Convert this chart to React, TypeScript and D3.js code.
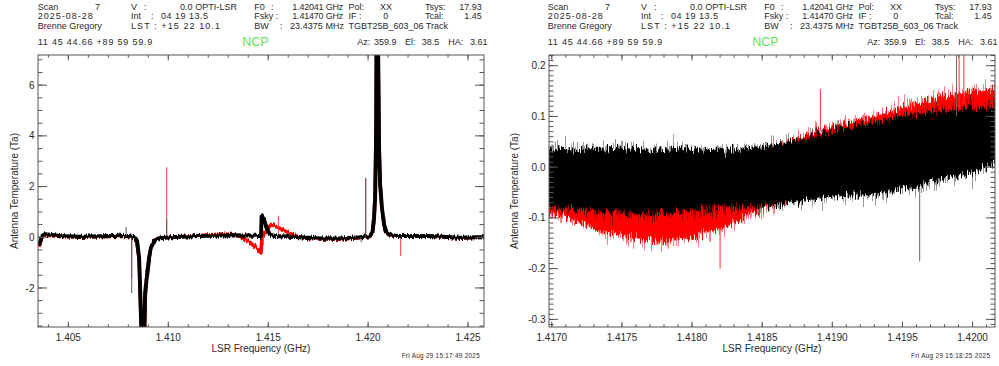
import React from "react";
import * as d3 from "d3";

const W = 999;
const H = 366;

// ---------- Left panel: full band spectra (freq GHz, Ta) ----------
const leftBlack: [number, number][] = [
  [1.40348, -0.3], [1.40358, -0.2], [1.40368, 0.05], [1.40383, 0.12], [1.40408, 0.1],
  [1.40458, 0.05], [1.40559, 0.02], [1.40659, 0.04], [1.40759, 0.06], [1.40799, 0.05],
  [1.40834, 0.0], [1.40844, -0.15], [1.40854, -0.8], [1.40861, -2.5], [1.40866, -4],
  [1.40879, -4], [1.40884, -2.2], [1.40894, -1.5], [1.40904, -0.8], [1.40914, -0.4],
  [1.40929, -0.15], [1.40949, -0.05], [1.41009, 0.0], [1.41159, 0.05], [1.41309, 0.08],
  [1.41409, 0.07], [1.41459, 0.05], [1.41464, 0.0], [1.41467, 0.85], [1.41479, 0.7],
  [1.41494, 0.35], [1.41509, 0.1], [1.41534, 0.05], [1.41659, 0.0], [1.41759, -0.05],
  [1.41859, -0.05], [1.41959, 0.0], [1.42009, 0.05], [1.42022, 0.2], [1.4203, 0.8],
  [1.42035, 1.5], [1.4204, 4], [1.42042, 7.5], [1.4205, 7.5], [1.42055, 3.5],
  [1.4206, 2.1], [1.4207, 1.1], [1.4208, 0.5], [1.4209, 0.2], [1.4211, 0.08],
  [1.4216, 0.05], [1.4231, 0.05], [1.4246, -0.02], [1.42535, 0.0], [1.4258, 0.0],
];

const leftRed: [number, number][] = [
  [1.40348, -0.35], [1.40358, -0.25], [1.40368, 0.0], [1.40383, 0.08], [1.40408, 0.07],
  [1.40458, 0.03], [1.40559, 0.0], [1.40659, 0.02], [1.40759, 0.04], [1.40799, 0.03],
  [1.40834, -0.02], [1.40844, -0.2], [1.40854, -0.9], [1.40861, -2.6], [1.40866, -4],
  [1.40881, -4], [1.40886, -2.0], [1.40896, -1.3], [1.40906, -0.7], [1.40916, -0.35],
  [1.40931, -0.12], [1.40951, -0.04], [1.41009, 0.0], [1.41159, 0.07], [1.41259, 0.13],
  [1.41309, 0.12], [1.41359, 0.04], [1.41409, -0.2], [1.41434, -0.38], [1.41464, -0.62],
  [1.41469, 0.0], [1.41484, 0.2], [1.41509, 0.45], [1.41519, 0.5], [1.41559, 0.35],
  [1.41609, 0.15], [1.41659, 0.0], [1.41709, -0.06], [1.41859, -0.08], [1.41959, -0.02],
  [1.42009, 0.03], [1.42022, 0.18], [1.4203, 0.8], [1.42035, 1.6], [1.4204, 4.5],
  [1.42042, 7.5], [1.4205, 7.5], [1.42056, 3.4], [1.42061, 2.0], [1.42071, 1.0],
  [1.42081, 0.45], [1.42091, 0.18], [1.42111, 0.06], [1.4216, 0.04], [1.4231, 0.04],
  [1.4246, -0.03], [1.4258, 0.0],
];

const leftSpikeFreq = [1.40817, 1.40992, 1.41476, 1.41551, 1.41988, 1.42163, 1.40789, 1.40817, 1.40992, 1.41965, 1.41988];
const leftSpikeBase = [0.0, 0.05, 0.05, 0.1, 0.0, 0.05, 0.05, 0.0, 0.05, 0.0, 0.0];
const leftSpikeVal = [-1.6, 2.76, -0.3, 0.85, 2.3, -0.74, 0.4, -2.2, 0.71, -0.2, 2.35];
const leftSpikeSeries = ["red", "red", "red", "red", "red", "red", "black", "black", "black", "black", "black"];

// ---------- Right panel: zoomed spectra, dense noise envelopes ----------
const rightFreq = [
  1.41698, 1.4171, 1.4172, 1.4173, 1.4174, 1.4175, 1.4176, 1.4177, 1.4178, 1.4179, 1.418,
  1.4181, 1.4182, 1.4183, 1.4184, 1.4185, 1.4186, 1.4187, 1.4188, 1.4189, 1.419, 1.4191,
  1.4192, 1.4193, 1.4194, 1.4195, 1.4196, 1.4197, 1.4198, 1.4199, 1.42, 1.4201, 1.42016,
];
const blackHi = [0.035, 0.036, 0.034, 0.036, 0.037, 0.038, 0.036, 0.034, 0.036, 0.038, 0.036, 0.034, 0.034, 0.035, 0.037, 0.04, 0.045, 0.05, 0.055, 0.062, 0.07, 0.078, 0.085, 0.09, 0.096, 0.1, 0.104, 0.108, 0.111, 0.114, 0.116, 0.119, 0.12];
const blackLo = [-0.078, -0.08, -0.083, -0.086, -0.088, -0.09, -0.092, -0.092, -0.09, -0.088, -0.085, -0.08, -0.078, -0.078, -0.078, -0.076, -0.074, -0.07, -0.066, -0.062, -0.058, -0.057, -0.056, -0.055, -0.05, -0.045, -0.04, -0.03, -0.022, -0.015, -0.01, 0.0, 0.01];
const redLo = [-0.09, -0.1, -0.11, -0.122, -0.13, -0.135, -0.14, -0.143, -0.146, -0.144, -0.138, -0.128, -0.122, -0.11, -0.095, -0.08, -0.07, -0.06, -0.05, -0.04, -0.03, -0.02, -0.012, -0.005, 0.0, 0.01, 0.02, 0.03, 0.04, 0.05, 0.055, 0.06, 0.06];
const redHi = [-0.03, -0.035, -0.04, -0.045, -0.05, -0.052, -0.054, -0.055, -0.055, -0.052, -0.045, -0.035, -0.025, -0.015, 0.0, 0.015, 0.035, 0.05, 0.058, 0.07, 0.078, 0.085, 0.093, 0.1, 0.108, 0.118, 0.125, 0.135, 0.14, 0.145, 0.15, 0.152, 0.152];

const rightSpikeFreq = [1.418915, 1.4182, 1.419904, 1.419938, 1.419623, 1.419886];
const rightSpikeBase = [0.07, -0.12, 0.1, 0.12, -0.04, 0.1];
const rightSpikeVal = [0.154, -0.2, 0.25, 0.25, -0.186, 0.25];
const rightSpikeSeries = ["red", "red", "red", "red", "black", "black"];

// ---------- Axes ----------
const leftXTicks = [1.405, 1.41, 1.415, 1.42, 1.425];
const leftYTicks = [-2, 0, 2, 4, 6];
const rightXTicks = [1.417, 1.4175, 1.418, 1.4185, 1.419, 1.4195, 1.42];
const rightYTicks = [-0.3, -0.2, -0.1, 0.0, 0.1, 0.2];

const FONT = "'Liberation Sans', Arial, Helvetica, sans-serif";
const AX = "#555";
const TXT = "#2a2a2a";

type AxesProps = {
  x: d3.ScaleLinear<number, number>;
  y: d3.ScaleLinear<number, number>;
  xMajor: number[];
  xMinor: number[];
  yMajor: number[];
  yMinor: number[];
  xFmt: (v: number) => string;
  yFmt: (v: number) => string;
};

function Axes({ x, y, xMajor, xMinor, yMajor, yMinor, xFmt, yFmt }: AxesProps) {
  const [x0, x1] = x.range();
  const [y1, y0] = y.range();
  const xl = 5.4, xs = 2.7, yl = 9, ys = 4.5;
  const inX = (v: number) => v >= Math.min(...x.domain()) && v <= Math.max(...x.domain());
  const inY = (v: number) => v >= Math.min(...y.domain()) && v <= Math.max(...y.domain());
  return (
    <g>
      <rect x={x0} y={y0} width={x1 - x0} height={y1 - y0} fill="none" stroke={AX} strokeWidth={1} />
      {xMinor.filter(inX).map((v, i) => (
        <g key={"xm" + i} stroke={AX} strokeWidth={1}>
          <line x1={x(v)} x2={x(v)} y1={y1} y2={y1 - xs} />
          <line x1={x(v)} x2={x(v)} y1={y0} y2={y0 + xs} />
        </g>
      ))}
      {xMajor.map((v, i) => (
        <g key={"xM" + i}>
          <line x1={x(v)} x2={x(v)} y1={y1} y2={y1 - xl} stroke={AX} />
          <line x1={x(v)} x2={x(v)} y1={y0} y2={y0 + xl} stroke={AX} />
          <text x={x(v)} y={y1 + 13.5} textAnchor="middle" fontSize={10} fontFamily={FONT} fill={TXT}>
            {xFmt(v)}
          </text>
        </g>
      ))}
      {yMinor.filter(inY).map((v, i) => (
        <g key={"ym" + i} stroke={AX} strokeWidth={1}>
          <line x1={x0} x2={x0 + ys} y1={y(v)} y2={y(v)} />
          <line x1={x1} x2={x1 - ys} y1={y(v)} y2={y(v)} />
        </g>
      ))}
      {yMajor.map((v, i) => (
        <g key={"yM" + i}>
          <line x1={x0} x2={x0 + yl} y1={y(v)} y2={y(v)} stroke={AX} />
          <line x1={x1} x2={x1 - yl} y1={y(v)} y2={y(v)} stroke={AX} />
          <text x={x0 - 3.5} y={y(v) + 3.6} textAnchor="end" fontSize={10} fontFamily={FONT} fill={TXT}>
            {yFmt(v)}
          </text>
        </g>
      ))}
    </g>
  );
}

function Header({ dx }: { dx: number }) {
  const t = (x: number, y: number, s: string, extra: any = {}) => (
    <text x={x + dx} y={y} fontSize={9} fontFamily={FONT} fill={TXT} {...extra}>
      {s}
    </text>
  );
  return (
    <g>
      {t(37.7, 10, "Scan")}
      {t(95, 10, "7")}
      {t(131, 10, "V")}
      {t(144, 10, ":")}
      {t(180, 10, "0.0 OPTI-LSR", { textLength: 57 })}
      {t(37.7, 19.3, "2025-08-28", { textLength: 55 })}
      {t(131, 19.3, "Int")}
      {t(151, 19.3, ":")}
      {t(161, 19.3, "04 19 13.5", { textLength: 47 })}
      {t(37.7, 28.7, "Brenne Gregory")}
      {t(131, 28.7, "LST : +15 22 10.1", { textLength: 89 })}
      {t(37.7, 45, "11 45 44.66  +89 59 59.9", { textLength: 114.6 })}
      <text x={242.3 + dx} y={46} fontSize={12.5} fontFamily={FONT} fill="#5ee35e">NCP</text>
      {t(254.3, 10, "F0")}
      {t(271, 10, ":")}
      {t(292.3, 10, "1.42041 GHz", { textLength: 51 })}
      {t(348.5, 10, "Pol:")}
      {t(380, 10, "XX")}
      {t(425, 10, "Tsys:")}
      {t(481.7, 10, "17.93", { textAnchor: "end" })}
      {t(254.3, 19.3, "Fsky :")}
      {t(292.3, 19.3, "1.41470 GHz", { textLength: 51 })}
      {t(348.5, 19.3, "IF :")}
      {t(383.3, 19.3, "0")}
      {t(425, 19.3, "Tcal:")}
      {t(481.7, 19.3, "1.45", { textAnchor: "end" })}
      {t(254.3, 28.7, "BW")}
      {t(280, 28.7, ":")}
      {t(290, 28.7, "23.4375 MHz", { textLength: 54 })}
      {t(348.5, 28.7, "TGBT25B_603_06 Track", { textLength: 99.5 })}
      {t(357.3, 45, "Az:")}
      {t(374, 45, "359.9")}
      {t(405, 45, "El:")}
      {t(421.7, 45, "38.5")}
      {t(448.3, 45, "HA:")}
      {t(470, 45, "3.61")}
    </g>
  );
}

// Rendering texture only: vertical-only displacement that turns a band's smooth
// edges into the dense spiky look of a noisy spectrum plot.
function NoiseFilter({ id, scale, seed, fx }: { id: string; scale: number; seed: number; fx: number }) {
  return (
    <filter id={id} filterUnits="userSpaceOnUse" x={0} y={40} width={W} height={300} colorInterpolationFilters="sRGB">
      <feTurbulence type="fractalNoise" baseFrequency={`${fx} 0.035`} numOctaves={2} seed={seed} result="n" />
      <feColorMatrix in="n" type="matrix"
        values="0 0 0 0 0.5  0 1 0 0 0  0 0 0 0 0  0 0 0 0 1" result="m" />
      <feDisplacementMap in="SourceGraphic" in2="m" scale={scale} xChannelSelector="R" yChannelSelector="G" />
    </filter>
  );
}

export default function App() {
  const xL = d3.scaleLinear().domain([1.40348, 1.4258]).range([38, 484]);
  const yL = d3.scaleLinear().domain([-3.54, 7.19]).range([327, 55]);
  const xR = d3.scaleLinear().domain([1.41698, 1.42016]).range([549, 995]);
  const yR = d3.scaleLinear().domain([-0.315, 0.221]).range([327, 55]);

  const lineL = d3
    .line<[number, number]>()
    .x((d) => xL(d[0]))
    .y((d) => yL(d[1]));

  const band = (lo: number[], hi: number[]) =>
    d3
      .area<number>()
      .x((f) => xR(f))
      .y0((_, i) => yR(lo[i]))
      .y1((_, i) => yR(hi[i]))(rightFreq) || "";

  const xMinorL = d3.range(0, 23).map((i) => +(1.403 + i * 0.001).toFixed(4));
  const yMinorL = d3.range(-7, 15).map((i) => i * 0.5);
  const xMinorR = d3.range(0, 33).map((i) => +(1.4169 + i * 0.0001).toFixed(5));
  const yMinorR = d3.range(-31, 23).map((i) => +(i * 0.01).toFixed(3));

  const spikeColor = (s: string, right: boolean) =>
    s === "red" ? (right ? "#ff3030" : "#ff4040") : right ? "#666" : "#555";

  return (
    <svg
      width={W}
      height={H}
      viewBox={`0 0 ${W} ${H}`}
      style={{ position: "absolute", left: 0, top: 0, background: "#fff" }}
    >
      <rect x={0} y={0} width={W} height={H} fill="#fff" />
      <defs>
        <clipPath id="clipL">
          <rect x={38} y={55} width={446} height={272} />
        </clipPath>
        <clipPath id="clipR">
          <rect x={549} y={55} width={446} height={272} />
        </clipPath>
        <NoiseFilter id="nzRedSoft" scale={44} seed={3} fx={0.9} />
        <NoiseFilter id="nzRed" scale={20} seed={7} fx={0.8} />
        <NoiseFilter id="nzBlackSoft" scale={44} seed={11} fx={0.9} />
        <NoiseFilter id="nzBlack" scale={20} seed={17} fx={0.8} />
        <NoiseFilter id="nzLine" scale={5} seed={5} fx={0.9} />
      </defs>

      <Header dx={0} />
      <Header dx={510} />

      {/* Left panel data */}
      <g clipPath="url(#clipL)">
        <g filter="url(#nzLine)">
          <path d={lineL(leftRed) || ""} fill="none" stroke="#ff0000" strokeWidth={3.5} strokeLinejoin="round" />
        </g>
        {leftSpikeFreq.map((f, i) =>
          leftSpikeSeries[i] === "red" ? (
            <line key={"lsr" + i} x1={xL(f)} x2={xL(f)} y1={yL(leftSpikeBase[i])} y2={yL(leftSpikeVal[i])}
              stroke={spikeColor("red", false)} strokeWidth={1} />
          ) : null
        )}
        <g filter="url(#nzLine)">
          <path d={lineL(leftBlack) || ""} fill="none" stroke="#000" strokeWidth={3.9} strokeLinejoin="round" />
        </g>
        {leftSpikeFreq.map((f, i) =>
          leftSpikeSeries[i] === "black" ? (
            <line key={"lsb" + i} x1={xL(f)} x2={xL(f)} y1={yL(leftSpikeBase[i])} y2={yL(leftSpikeVal[i])}
              stroke={spikeColor("black", false)} strokeWidth={1} />
          ) : null
        )}
      </g>

      {/* Right panel data */}
      <g clipPath="url(#clipR)">
        <g filter="url(#nzRedSoft)" opacity={0.5}>
          <path d={band(redLo, redHi)} fill="#ff0000" />
        </g>
        <g filter="url(#nzRed)">
          <path d={band(redLo, redHi)} fill="#ff0000" />
        </g>
        {rightSpikeFreq.map((f, i) =>
          rightSpikeSeries[i] === "red" ? (
            <line key={"rsr" + i} x1={xR(f)} x2={xR(f)} y1={yR(rightSpikeBase[i])} y2={yR(rightSpikeVal[i])}
              stroke={spikeColor("red", true)} strokeWidth={1} />
          ) : null
        )}
        <g filter="url(#nzBlackSoft)" opacity={0.4}>
          <path d={band(blackLo, blackHi)} fill="#000" />
        </g>
        <g filter="url(#nzBlack)">
          <path d={band(blackLo, blackHi)} fill="#000" />
        </g>
        {rightSpikeFreq.map((f, i) =>
          rightSpikeSeries[i] === "black" ? (
            <line key={"rsb" + i} x1={xR(f)} x2={xR(f)} y1={yR(rightSpikeBase[i])} y2={yR(rightSpikeVal[i])}
              stroke={spikeColor("black", true)} strokeWidth={1} />
          ) : null
        )}
      </g>

      <Axes x={xL} y={yL} xMajor={leftXTicks} xMinor={xMinorL} yMajor={leftYTicks} yMinor={yMinorL}
        xFmt={(v) => v.toFixed(3)} yFmt={(v) => String(v)} />
      <Axes x={xR} y={yR} xMajor={rightXTicks} xMinor={xMinorR} yMajor={rightYTicks} yMinor={yMinorR}
        xFmt={(v) => v.toFixed(4)} yFmt={(v) => v.toFixed(1)} />

      {/* Titles */}
      <text x={261} y={352} textAnchor="middle" fontSize={10} fontFamily={FONT} fill={TXT}>LSR Frequency (GHz)</text>
      <text x={772} y={352} textAnchor="middle" fontSize={10} fontFamily={FONT} fill={TXT}>LSR Frequency (GHz)</text>
      <text transform="translate(17.5,191) rotate(-90)" textAnchor="middle" fontSize={10} fontFamily={FONT} fill={TXT}>
        Antenna Temperature (Ta)
      </text>
      <text transform="translate(517.5,191) rotate(-90)" textAnchor="middle" fontSize={10} fontFamily={FONT} fill={TXT}>
        Antenna Temperature (Ta)
      </text>
      <text x={401.7} y={358} fontSize={6.4} fontFamily={FONT} fill={TXT} textLength={78}>Fri Aug 29 15:17:49 2025</text>
      <text x={911} y={358} fontSize={6.4} fontFamily={FONT} fill={TXT} textLength={79}>Fri Aug 29 15:18:25 2025</text>
    </svg>
  );
}
